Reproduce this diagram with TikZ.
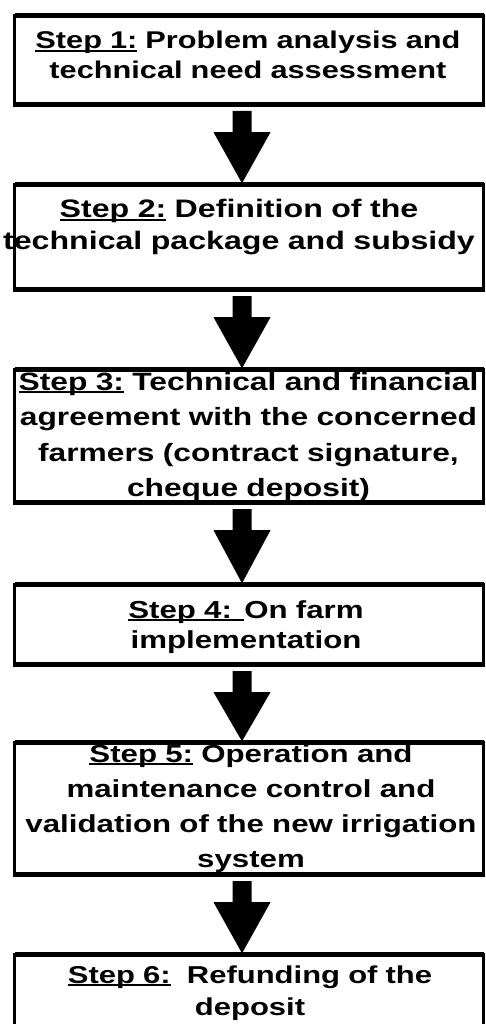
\documentclass[tikz,border=0pt]{standalone}
\usepackage{fontspec}
\setmainfont{Liberation Sans}[FakeStretch=1.27]
\usetikzlibrary{calc}
\newcommand\stepul[1]{\setbox0=\hbox{#1}\rlap{\rule[-3.3pt]{\wd0}{2.1pt}}\box0\relax}
\newcommand\blockarrow[2]{%
  \fill[arrowfill] ($(#1.south -| ax)+(-9.5,6.3)$) -- ($(#1.south -| ax)+(9.5,6.3)$)
    -- ($(#1.south -| ax)+(9.5,27.5)$) -- ($(#1.south -| ax)+(28.5,27.5)$)
    -- ($(#2.north -| ax)+(0,-1)$)
    -- ($(#1.south -| ax)+(-28.5,27.5)$) -- ($(#1.south -| ax)+(-9.5,27.5)$) -- cycle;}
\newcommand\hedges[1]{%
  \draw[hedge] (#1.north west) -- (#1.north east) (#1.south west) -- (#1.south east);}
\tikzset{
  stepbox/.style={draw, line width=2.6pt, inner sep=0pt, outer sep=0pt, minimum width=469pt},
  hedge/.style={line width=4.6pt, shorten <=-1.3pt, shorten >=-1.3pt},
  steptext/.style={anchor=base, text width=490pt, align=center, inner sep=0pt},
  arrowfill/.style={fill=black}
}
\begin{document}
\begin{tikzpicture}[x=1pt,y=-1pt]
\useasboundingbox (0,0) rectangle (485,1024);
\clip (0,0) rectangle (485,1024);
\coordinate (ax) at (242,0);
% texts
\node[steptext, font=\bfseries\fontsize{24.2}{30.5}\selectfont] (t1) at (248,48.5)
  {\stepul{Step 1:} Problem analysis and\\technical need assessment};
\node[steptext, font=\bfseries\fontsize{25.3}{32}\selectfont] (t2) at (239,218)
  {\stepul{Step 2:} Definition of the\\technical package and subsidy};
\node[steptext, font=\bfseries\fontsize{25}{35.5}\selectfont] (t3) at (248.5,390)
  {\stepul{Step 3:} Technical and financial\\agreement with the concerned\\farmers (contract signature,\\cheque deposit)};
\node[steptext, font=\bfseries\fontsize{24.6}{30}\selectfont] (t4) at (246,618)
  {\stepul{Step 4: }On farm\\implementation};
\node[steptext, font=\bfseries\fontsize{24.6}{35}\selectfont] (t5) at (251,762)
  {\stepul{Step 5:} Operation and\\maintenance control and\\validation of the new irrigation\\system};
\node[steptext, font=\bfseries\fontsize{24.4}{32}\selectfont] (t6) at (250,983)
  {\stepul{Step 6:}\ \ Refunding of the\\deposit};
% boxes
\node[stepbox, minimum height=89.4pt] (s1) at (249,60) {};
\node[stepbox, minimum height=105.4pt] (s2) at (249,237) {};
\node[stepbox, minimum height=133.4pt] (s3) at (249,436) {};
\node[stepbox, minimum height=80.4pt] (s4) at (249,624.5) {};
\node[stepbox, minimum height=132.4pt] (s5) at (249,808.5) {};
\node[stepbox, minimum height=85.7pt] (s6) at (249,997.15) {};
\hedges{s1}\hedges{s2}\hedges{s3}\hedges{s4}\hedges{s5}\hedges{s6}
% arrows
\blockarrow{s1}{s2}
\blockarrow{s2}{s3}
\blockarrow{s3}{s4}
\blockarrow{s4}{s5}
\blockarrow{s5}{s6}
\end{tikzpicture}
\end{document}
